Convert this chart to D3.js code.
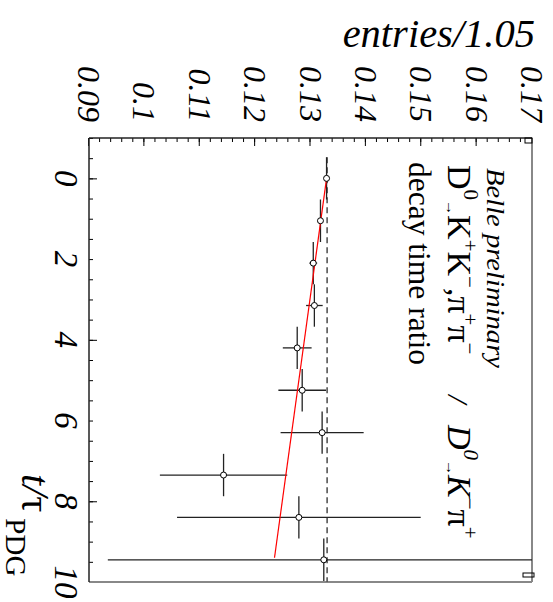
<!DOCTYPE html>
<html>
<head>
<meta charset="utf-8">
<script src="https://cdn.jsdelivr.net/npm/d3@7"></script>
<style>
  body { margin: 0; background: #fff; }
  svg { display: block; }
  text { font-family: "Liberation Serif", "Times New Roman", serif; }
</style>
</head>
<body>
<div id="chart"></div>
<script>
// Data (bin centres in t/tau, ratio and its error)
const tCenters = [0, 1.05, 2.1, 3.15, 4.2, 5.25, 6.3, 7.35, 8.4, 9.45];
const ratio    = [0.1329, 0.1318, 0.1305, 0.1307, 0.1276, 0.1285, 0.1321, 0.1143, 0.1279, 0.1324];
const ratioErr = [0.0003, 0.0004, 0.0007, 0.0015, 0.0026, 0.0043, 0.0075, 0.0115, 0.0220, 0.0390];
const binHalf  = 0.525;

// linear fit (red) and constant reference (dashed)
const fitT = [0, 9.4];
const fitV = [0.1329, 0.1235];
const refT = [-0.525, 10];
const refV = [0.1330, 0.1330];

// tick labels
const tLabels = [0, 2, 4, 6, 8, 10];
const tMajor  = [0, 4, 8];
const vLabels = [0.09, 0.10, 0.11, 0.12, 0.13, 0.14, 0.15, 0.16, 0.17];

const W = 553, H = 602;

const svg = d3.select("#chart")
  .append("svg")
    .attr("width", W)
    .attr("height", H);

// the whole plot is drawn upright, then turned a quarter clockwise
const g = svg.append("g")
  .attr("transform", `translate(${W},0) rotate(90)`);

const xScale = d3.scaleLinear().domain([-1, 10]).range([138, 582]);
const yScale = d3.scaleLinear().domain([0.09, 0.17]).range([464, 21]);

g.append("clipPath").attr("id", "plotclip")
  .append("rect")
    .attr("x", xScale(-1)).attr("y", yScale(0.17))
    .attr("width", xScale(10) - xScale(-1))
    .attr("height", yScale(0.09) - yScale(0.17));

// axes (ticks point into the frame)
const styleAxis = sel => {
  sel.select(".domain").remove();
  sel.selectAll("line").attr("stroke", "#000").attr("stroke-width", 1);
};
g.append("g")
  .attr("transform", `translate(0,${yScale(0.09)})`)
  .call(d3.axisBottom(xScale).tickValues(d3.range(-1, 10.01, 0.5)).tickSize(-4).tickFormat(""))
  .call(styleAxis);
g.append("g")
  .attr("transform", `translate(0,${yScale(0.09)})`)
  .call(d3.axisBottom(xScale).tickValues(tMajor).tickSize(-8).tickFormat(""))
  .call(styleAxis);
g.append("g")
  .attr("transform", `translate(${xScale(-1)},0)`)
  .call(d3.axisLeft(yScale).tickValues(d3.range(0.09, 0.1701, 0.002)).tickSize(-4).tickFormat(""))
  .call(styleAxis);
g.append("g")
  .attr("transform", `translate(${xScale(-1)},0)`)
  .call(d3.axisLeft(yScale).tickValues(vLabels).tickSize(-8).tickFormat(""))
  .call(styleAxis);

// frame: black on the axis sides, grey on the others
g.append("line")
  .attr("x1", xScale(-1)).attr("x2", xScale(10))
  .attr("y1", yScale(0.17)).attr("y2", yScale(0.17))
  .attr("stroke", "#888").attr("stroke-width", 2);
g.append("line")
  .attr("x1", xScale(10)).attr("x2", xScale(10))
  .attr("y1", yScale(0.17)).attr("y2", yScale(0.09))
  .attr("stroke", "#888").attr("stroke-width", 2);
g.append("line")
  .attr("x1", xScale(-1)).attr("x2", xScale(10))
  .attr("y1", yScale(0.09)).attr("y2", yScale(0.09))
  .attr("stroke", "#222").attr("stroke-width", 1.5);
g.append("line")
  .attr("x1", xScale(-1)).attr("x2", xScale(-1))
  .attr("y1", yScale(0.17)).attr("y2", yScale(0.09))
  .attr("stroke", "#222").attr("stroke-width", 1.5);

// small boxes in the corners
g.append("rect")
  .attr("x", xScale(10) - 9).attr("y", yScale(0.17) - 2)
  .attr("width", 4).attr("height", 11)
  .attr("fill", "none").attr("stroke", "#000").attr("stroke-width", 1);
g.append("rect")
  .attr("x", xScale(-1)).attr("y", yScale(0.17))
  .attr("width", 5).attr("height", 7)
  .attr("fill", "none").attr("stroke", "#000").attr("stroke-width", 1);

// tick labels
g.append("g").selectAll("text")
  .data(tLabels)
  .join("text")
    .text(d => d)
    .attr("x", d => xScale(d))
    .attr("y", 498)
    .attr("text-anchor", "middle")
    .style("font-style", "italic")
    .style("font-size", "33px");

g.append("g").selectAll("text")
  .data(vLabels)
  .join("text")
    .text(d => String(+d.toFixed(2)))
    .attr("x", 122)
    .attr("y", d => yScale(d) + 11)
    .attr("text-anchor", "end")
    .style("font-style", "italic")
    .style("font-size", "32px");

// axis titles
const xt = g.append("text")
  .attr("x", 474)
  .attr("y", 531)
  .style("font-size", "40px");
xt.append("tspan").text("t/").style("font-style", "italic");
xt.append("tspan").text("τ");
xt.append("tspan").text("PDG").attr("dx", 6).attr("dy", 16).style("font-size", "29px");

g.append("text")
  .text("entries/1.05")
  .attr("transform", "translate(47,18) rotate(-90)")
  .attr("text-anchor", "end")
  .style("font-style", "italic")
  .style("font-size", "40.5px");

// data layer
const plot = g.append("g").attr("clip-path", "url(#plotclip)");
const points = tCenters.map((t, i) => ({ t: t, v: ratio[i], e: ratioErr[i] }));

plot.append("line")
  .attr("x1", xScale(refT[0])).attr("x2", xScale(refT[1]))
  .attr("y1", yScale(refV[0])).attr("y2", yScale(refV[1]))
  .attr("stroke", "#555")
  .attr("stroke-width", 1.6)
  .attr("stroke-dasharray", "6,4");

plot.selectAll(".ebar-v")
  .data(points)
  .join("line")
    .attr("class", "ebar-v")
    .attr("x1", d => xScale(d.t)).attr("x2", d => xScale(d.t))
    .attr("y1", d => yScale(d.v - d.e)).attr("y2", d => yScale(d.v + d.e))
    .attr("stroke", "#222").attr("stroke-width", 1.3);

plot.selectAll(".ebar-h")
  .data(points)
  .join("line")
    .attr("class", "ebar-h")
    .attr("x1", d => xScale(d.t - binHalf)).attr("x2", d => xScale(d.t + binHalf))
    .attr("y1", d => yScale(d.v)).attr("y2", d => yScale(d.v))
    .attr("stroke", "#222").attr("stroke-width", 1.3);

plot.append("line")
  .attr("x1", xScale(fitT[0])).attr("x2", xScale(fitT[1]))
  .attr("y1", yScale(fitV[0])).attr("y2", yScale(fitV[1]))
  .attr("stroke", "#ff0000")
  .attr("stroke-width", 1.2);

plot.selectAll("circle")
  .data(points)
  .join("circle")
    .attr("cx", d => xScale(d.t))
    .attr("cy", d => yScale(d.v))
    .attr("r", 3)
    .attr("fill", "#fff")
    .attr("stroke", "#000")
    .attr("stroke-width", 1);

// annotation block
const note = g.append("g");

note.append("text")
  .text("Belle preliminary")
  .attr("x", 168).attr("y", 66)
  .attr("textLength", 200)
  .attr("lengthAdjust", "spacingAndGlyphs")
  .style("font-style", "italic")
  .style("font-size", "25px");

// pieces: [text, baseline offset, size, italic]
function richText(x, y, pieces) {
  const t = note.append("text").attr("x", x).attr("y", y);
  let cur = 0;
  pieces.forEach(([s, off, size, it]) => {
    t.append("tspan")
      .text(s)
      .attr("dy", off - cur)
      .style("font-size", size + "px")
      .style("font-style", it ? "italic" : "normal");
    cur = off;
  });
  return t;
}

richText(165, 105, [
  ["D", 0, 34], ["0", -16, 21], ["→", 2, 15],
  ["K", 0, 34], ["+", -15, 21], ["K", 0, 34], ["−", -15, 21],
  [",", 0, 34], ["π", 0, 34], ["+", -15, 21], ["π", 0, 34], ["−", -15, 21]
]);
richText(395, 105, [["/", 0, 30, true]]);
richText(425, 105, [
  ["D", 0, 34, true], ["0", -16, 21, true], ["→", 2, 15],
  ["K", 0, 34, true], ["−", -15, 21], ["π", 0, 34], ["+", -15, 21]
]);

note.append("text")
  .text("decay time ratio")
  .attr("x", 162).attr("y", 144)
  .style("font-size", "31.5px");
</script>
</body>
</html>
